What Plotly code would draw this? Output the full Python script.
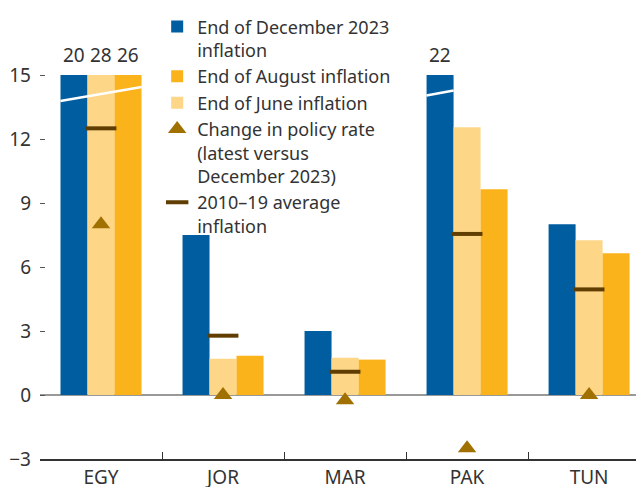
import plotly.graph_objs as go

# data
categories = ["EGY", "JOR", "MAR", "PAK", "TUN"]
dec_2023 = [20, 7.5, 3.0, 22, 8.0]
end_june = [28, 1.7, 1.75, 12.55, 7.25]
end_august = [26, 1.84, 1.66, 9.65, 6.65]
policy_change = [8.0, 0.0, -0.25, -2.5, 0.0]
avg_2010_19 = [12.5, 2.78, 1.09, 7.55, 4.95]

y_ticks = [-3, 0, 3, 6, 9, 12, 15]
cap = 15

BLUE = "#005DA0"
ORANGE = "#FBB31C"
LIGHT = "#FDD687"
TRI = "#A07000"
DASH = "#603D00"
TXT = "#333333"
FONT = "Noto Sans"


def clipped(values):
    return [min(v, cap) for v in values]


fig = go.Figure()

# bar order in a group: December, June, August
bars = [
    ("End of December 2023<br>inflation", dec_2023, BLUE, 1),
    ("End of June inflation", end_june, LIGHT, 3),
    ("End of August inflation", end_august, ORANGE, 2),
]
for name, vals, color, rank in bars:
    fig.add_trace(go.Bar(x=categories, y=clipped(vals), name=name,
                         marker=dict(color=color, line=dict(width=0)),
                         legendrank=rank))

fig.add_trace(go.Scatter(x=categories, y=policy_change, mode="markers",
                         name="Change in policy rate<br>(latest versus<br>December 2023)",
                         marker=dict(symbol="triangle-up", size=16, color=TRI),
                         legendrank=4))
fig.add_trace(go.Scatter(x=categories, y=avg_2010_19, mode="markers",
                         name="2010–19 average<br>inflation",
                         marker=dict(symbol="line-ew", size=22,
                                     line=dict(width=4, color=DASH)),
                         legendrank=5))

# labels and break marks for bars that run past the axis
offsets = [-27, 0, 27]
for i, cat in enumerate(categories):
    for j, (name, vals, color, rank) in enumerate(bars):
        if vals[i] > cap:
            fig.add_annotation(x=cat, y=cap, xref="x", yref="y",
                               text=str(vals[i]), showarrow=False,
                               xshift=offsets[j], yshift=5, yanchor="bottom",
                               font=dict(size=19, color=TXT, family=FONT))

# white slanted breaks
fig.add_shape(type="line", xref="x", yref="y", x0=-0.333, x1=0.333,
              y0=13.78, y1=14.44, line=dict(color="white", width=2.5))
fig.add_shape(type="line", xref="x", yref="y", x0=3 - 0.333, x1=3 - 0.11,
              y0=14.04, y1=14.27, line=dict(color="white", width=2.5))

# page body has an 8px margin, so the figure is sized to land on the window
fig.update_layout(
    width=636, height=479,
    margin=dict(l=32, r=0, t=3, b=28),
    paper_bgcolor="white", plot_bgcolor="white",
    barmode="group", bargap=0.336, bargroupgap=0,
    font=dict(family=FONT, size=19, color=TXT),
    showlegend=True,
    legend=dict(x=0.194, y=1.006, xanchor="left", yanchor="top",
                bgcolor="rgba(0,0,0,0)", font=dict(size=18, color=TXT),
                itemwidth=30, tracegroupgap=0, valign="top"),
    xaxis=dict(range=[-0.5, 4.45], showline=True, linecolor=TXT, linewidth=1.5,
               ticks="inside", tickson="boundaries", ticklen=7, tickcolor=TXT,
               tickwidth=1.2, showgrid=False, zeroline=False, automargin=False,
               tickfont=dict(size=19, color=TXT)),
    yaxis=dict(range=[-3, 18], tickvals=y_ticks, ticks="inside", ticklen=5,
               tickcolor="#555555", showgrid=False, showline=False,
               zeroline=True, zerolinecolor="#999999", zerolinewidth=1.5,
               automargin=False, ticklabelstandoff=8,
               tickfont=dict(size=19, color=TXT)),
    yaxis2=dict(range=[-3, 18], tickvals=y_ticks, overlaying="y", side="right",
                ticks="inside", ticklen=2, tickcolor="#555555",
                showticklabels=False, showgrid=False, zeroline=False),
)

fig.write_html("out.html")
